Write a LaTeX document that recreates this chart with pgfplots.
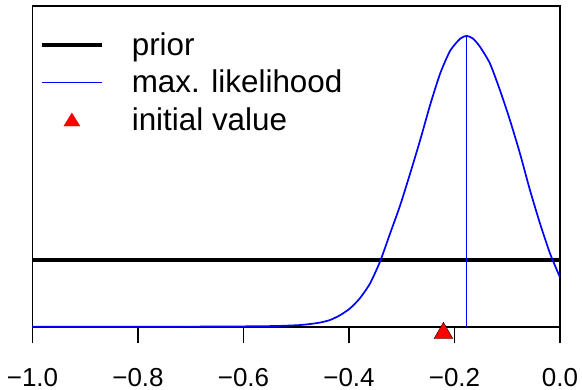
\documentclass[border=0pt]{standalone}
\usepackage{fontspec}
\setmainfont{Liberation Sans}
\usepackage{pgfplots}
\pgfplotsset{compat=1.18}
\begin{document}
\begin{tikzpicture}
\path[use as bounding box] (-32.5pt,-62.3pt) rectangle (549.5pt,326.7pt);
\begin{axis}[
  at={(0pt,0pt)}, anchor=south west,
  scale only axis, width=527.5pt, height=320.7pt,
  xmin=-1, xmax=0, ymin=0, ymax=4.808,
  clip=false,
  axis line style={line width=1.7pt},
  ytick=\empty,
  xtick={-1,-0.8,-0.6,-0.4,-0.2,0},
  xticklabels={−1.0,−0.8,−0.6,−0.4,−0.2,0.0},
  xtick pos=left, tick align=outside,
  major tick length=16.6pt,
  every tick/.style={black, line width=1.7pt},
  xticklabel style={anchor=base, yshift=-43.4pt, inner sep=0pt, font=\fontsize{26}{30}\selectfont},
  legend style={at={(0,1)}, anchor=north west, xshift=7.5pt, yshift=-25pt,
    draw=none, fill=none, inner sep=0pt, outer sep=0pt,
    font=\fontsize{31.4}{38}\selectfont, row sep=9.5pt, column sep=28pt,
    nodes={inner sep=0pt, text height=24pt, text depth=4pt}},
  legend cell align=left,
]
\addplot[black, line width=3.8pt,
  legend image code/.code={\draw[black, line width=3.8pt] (0pt,0pt) -- (60pt,0pt);}]
  coordinates {(-1,1) (0,1)};
\addlegendentry{prior}
\addplot[blue, line width=1.7pt, smooth, tension=0.4,
  legend image code/.code={\draw[blue, line width=1.6pt] (0pt,0pt) -- (60pt,0pt);}]
  coordinates {(-1.0,0) (-0.8,0) (-0.7,0.001) (-0.62,0.004) (-0.57,0.007) (-0.53,0.012)
  (-0.493,0.025) (-0.474,0.04) (-0.455,0.062) (-0.436,0.10) (-0.417,0.172) (-0.398,0.275)
  (-0.379,0.43) (-0.36,0.65)
  (-0.341,0.98) (-0.322,1.40) (-0.303,1.82) (-0.284,2.30) (-0.265,2.80) (-0.246,3.33)
  (-0.227,3.80) (-0.208,4.14) (-0.189,4.32) (-0.177,4.36) (-0.165,4.32) (-0.152,4.20)
  (-0.133,3.95) (-0.114,3.55) (-0.095,3.10) (-0.076,2.60) (-0.057,2.05) (-0.038,1.55)
  (-0.019,1.10) (0,0.74)};
\addlegendentry{max. likelihood}
\addplot[blue, line width=1.7pt, forget plot] coordinates {(-0.177,0) (-0.177,4.36)};
\addplot[only marks, mark=triangle*, mark size=10.8pt,
  mark options={draw=none, fill=red, yshift=-6.4pt},
  legend image code/.code={\fill[red] (22pt,-6pt) -- (38pt,-6pt) -- (30pt,7pt) -- cycle;}]
  coordinates {(-0.221,0)};
\addlegendentry{initial value}
\end{axis}
\end{tikzpicture}
\end{document}
